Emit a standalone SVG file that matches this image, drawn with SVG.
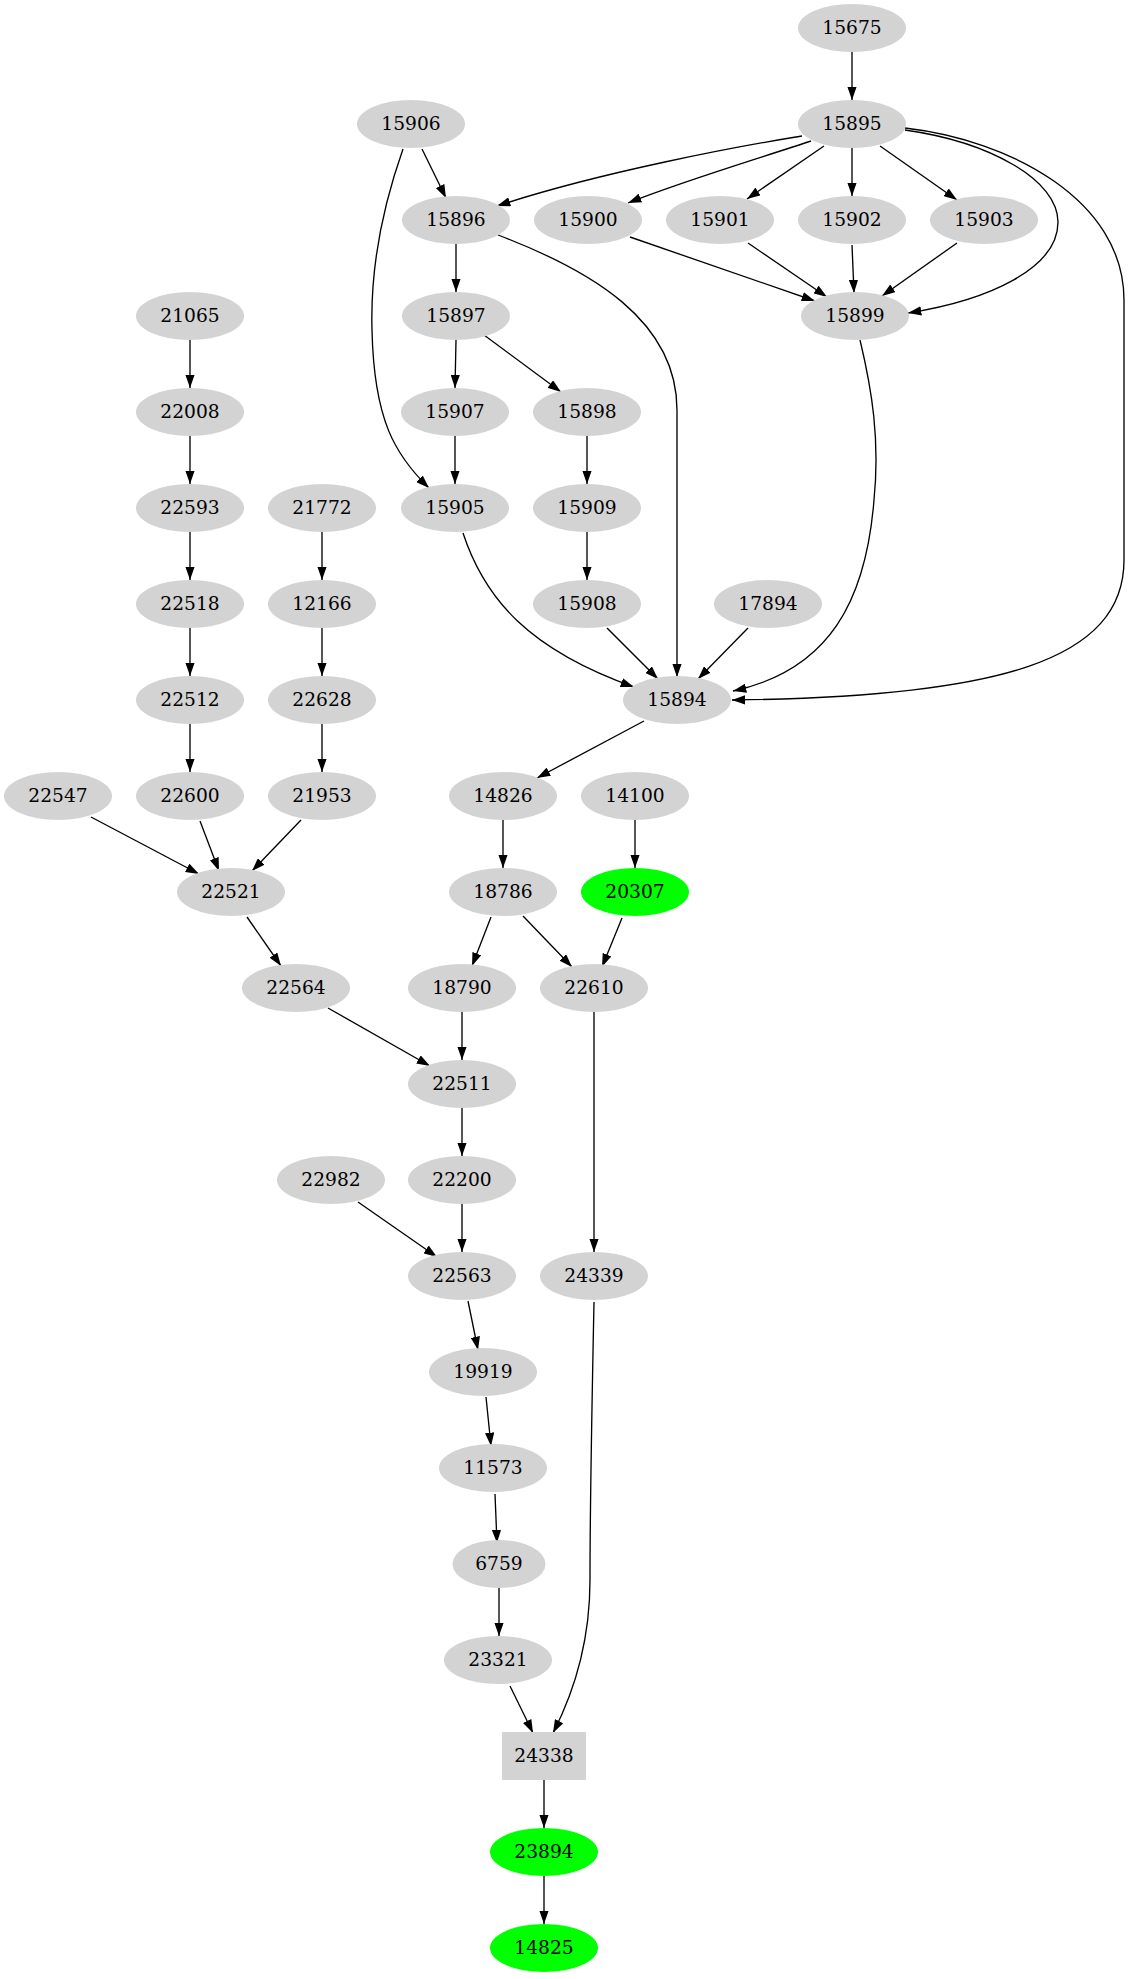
<svg xmlns="http://www.w3.org/2000/svg" width="1131" height="1979" viewBox="0 0 1131 1979">
<style>
.n ellipse, .n rect { fill: #d3d3d3; stroke: none; }
.g ellipse { fill: #00ff00; }
.n text { font-family: "DejaVu Serif", "Liberation Serif", serif; font-size: 18.67px; text-anchor: middle; fill: #000; }
.e path { fill: none; stroke: #000; stroke-width: 1.33; marker-end: url(#ah); }
</style>
<defs>
<marker id="ah" markerUnits="userSpaceOnUse" viewBox="0 0 13.33 9.33" refX="13.33" refY="4.67" markerWidth="13.33" markerHeight="9.33" orient="auto">
<path d="M0,0 L13.33,4.67 L0,9.33 z" fill="#000"/>
</marker>
</defs>
<rect width="1131" height="1979" fill="#fff"/>
<g id="edges" class="e">
<path d="M852,52 L852,100"/>
<path d="M802,136 C740,146 600,172 497,206"/>
<path d="M811,141 C760,158 680,182 628,203"/>
<path d="M824,146 L747,199"/>
<path d="M852,148 L852,196"/>
<path d="M880,146 L957,200"/>
<path d="M905,130 C990,142 1058,180 1058,222 C1058,268 990,300 908,313"/>
<path d="M905,128 C1010,140 1124,200 1124,300 L1124,560 C1124,660 1000,697 732,700"/>
<path d="M422,149 L446,198"/>
<path d="M403,149 C385,200 370,260 372,330 C374,420 395,455 429,488"/>
<path d="M456,244 L456,292"/>
<path d="M498,235 C590,270 677,320 677,410 L677,677"/>
<path d="M630,237 L815,301"/>
<path d="M748,243 L827,297"/>
<path d="M852,245 L854,293"/>
<path d="M957,243 L882,296"/>
<path d="M860,340 C872,390 880,440 874,500 C866,600 830,670 733,691"/>
<path d="M456,340 L455,388"/>
<path d="M484,335 L561,392"/>
<path d="M455,436 L455,484"/>
<path d="M587,436 L587,484"/>
<path d="M587,532 L587,580"/>
<path d="M463,533 C485,600 530,650 634,687"/>
<path d="M607,628 L658,679"/>
<path d="M748,628 L698,679"/>
<path d="M190,340 L190,388"/>
<path d="M190,436 L190,484"/>
<path d="M190,532 L190,580"/>
<path d="M322,532 L322,580"/>
<path d="M190,628 L190,676"/>
<path d="M322,628 L322,676"/>
<path d="M190,724 L190,772"/>
<path d="M322,724 L322,772"/>
<path d="M644,721 L537,778"/>
<path d="M91,817 L199,874"/>
<path d="M200,821 L219,871"/>
<path d="M301,820 L252,871"/>
<path d="M247,917 L281,966"/>
<path d="M503,820 L503,868"/>
<path d="M635,820 L635,868"/>
<path d="M491,917 L472,966"/>
<path d="M523,916 L572,967"/>
<path d="M622,918 L602,967"/>
<path d="M328,1008 L430,1066"/>
<path d="M462,1012 L462,1060"/>
<path d="M594,1012 L594,1252"/>
<path d="M462,1108 L462,1156"/>
<path d="M358,1202 L437,1257"/>
<path d="M462,1204 L462,1252"/>
<path d="M468,1301 L478,1350"/>
<path d="M486,1397 L491,1446"/>
<path d="M495,1494 L497,1543"/>
<path d="M499,1588 L499,1636"/>
<path d="M510,1686 L533,1733"/>
<path d="M594,1302 C592,1400 590,1500 590,1580 C590,1650 570,1700 553,1733"/>
<path d="M544,1780 L544,1828"/>
<path d="M544,1876 L544,1924"/>
</g>
<g id="n15675" class="n"><ellipse cx="852" cy="28" rx="54" ry="24"/><text x="852" y="34">15675</text></g>
<g id="n15895" class="n"><ellipse cx="852" cy="124" rx="54" ry="24"/><text x="852" y="130">15895</text></g>
<g id="n15906" class="n"><ellipse cx="411" cy="124" rx="54" ry="24"/><text x="411" y="130">15906</text></g>
<g id="n15896" class="n"><ellipse cx="456" cy="220" rx="54" ry="24"/><text x="456" y="226">15896</text></g>
<g id="n15900" class="n"><ellipse cx="588" cy="220" rx="54" ry="24"/><text x="588" y="226">15900</text></g>
<g id="n15901" class="n"><ellipse cx="720" cy="220" rx="54" ry="24"/><text x="720" y="226">15901</text></g>
<g id="n15902" class="n"><ellipse cx="852" cy="220" rx="54" ry="24"/><text x="852" y="226">15902</text></g>
<g id="n15903" class="n"><ellipse cx="984" cy="220" rx="54" ry="24"/><text x="984" y="226">15903</text></g>
<g id="n21065" class="n"><ellipse cx="190" cy="316" rx="54" ry="24"/><text x="190" y="322">21065</text></g>
<g id="n15897" class="n"><ellipse cx="456" cy="316" rx="54" ry="24"/><text x="456" y="322">15897</text></g>
<g id="n15899" class="n"><ellipse cx="855" cy="316" rx="54" ry="24"/><text x="855" y="322">15899</text></g>
<g id="n22008" class="n"><ellipse cx="190" cy="412" rx="54" ry="24"/><text x="190" y="418">22008</text></g>
<g id="n15907" class="n"><ellipse cx="455" cy="412" rx="54" ry="24"/><text x="455" y="418">15907</text></g>
<g id="n15898" class="n"><ellipse cx="587" cy="412" rx="54" ry="24"/><text x="587" y="418">15898</text></g>
<g id="n22593" class="n"><ellipse cx="190" cy="508" rx="54" ry="24"/><text x="190" y="514">22593</text></g>
<g id="n21772" class="n"><ellipse cx="322" cy="508" rx="54" ry="24"/><text x="322" y="514">21772</text></g>
<g id="n15905" class="n"><ellipse cx="455" cy="508" rx="54" ry="24"/><text x="455" y="514">15905</text></g>
<g id="n15909" class="n"><ellipse cx="587" cy="508" rx="54" ry="24"/><text x="587" y="514">15909</text></g>
<g id="n22518" class="n"><ellipse cx="190" cy="604" rx="54" ry="24"/><text x="190" y="610">22518</text></g>
<g id="n12166" class="n"><ellipse cx="322" cy="604" rx="54" ry="24"/><text x="322" y="610">12166</text></g>
<g id="n15908" class="n"><ellipse cx="587" cy="604" rx="54" ry="24"/><text x="587" y="610">15908</text></g>
<g id="n17894" class="n"><ellipse cx="768" cy="604" rx="54" ry="24"/><text x="768" y="610">17894</text></g>
<g id="n22512" class="n"><ellipse cx="190" cy="700" rx="54" ry="24"/><text x="190" y="706">22512</text></g>
<g id="n22628" class="n"><ellipse cx="322" cy="700" rx="54" ry="24"/><text x="322" y="706">22628</text></g>
<g id="n15894" class="n"><ellipse cx="677" cy="700" rx="54" ry="24"/><text x="677" y="706">15894</text></g>
<g id="n22547" class="n"><ellipse cx="58" cy="796" rx="54" ry="24"/><text x="58" y="802">22547</text></g>
<g id="n22600" class="n"><ellipse cx="190" cy="796" rx="54" ry="24"/><text x="190" y="802">22600</text></g>
<g id="n21953" class="n"><ellipse cx="322" cy="796" rx="54" ry="24"/><text x="322" y="802">21953</text></g>
<g id="n14826" class="n"><ellipse cx="503" cy="796" rx="54" ry="24"/><text x="503" y="802">14826</text></g>
<g id="n14100" class="n"><ellipse cx="635" cy="796" rx="54" ry="24"/><text x="635" y="802">14100</text></g>
<g id="n22521" class="n"><ellipse cx="231" cy="892" rx="54" ry="24"/><text x="231" y="898">22521</text></g>
<g id="n18786" class="n"><ellipse cx="503" cy="892" rx="54" ry="24"/><text x="503" y="898">18786</text></g>
<g id="n20307" class="n g"><ellipse cx="635" cy="892" rx="54" ry="24"/><text x="635" y="898">20307</text></g>
<g id="n22564" class="n"><ellipse cx="296" cy="988" rx="54" ry="24"/><text x="296" y="994">22564</text></g>
<g id="n18790" class="n"><ellipse cx="462" cy="988" rx="54" ry="24"/><text x="462" y="994">18790</text></g>
<g id="n22610" class="n"><ellipse cx="594" cy="988" rx="54" ry="24"/><text x="594" y="994">22610</text></g>
<g id="n22511" class="n"><ellipse cx="462" cy="1084" rx="54" ry="24"/><text x="462" y="1090">22511</text></g>
<g id="n22982" class="n"><ellipse cx="331" cy="1180" rx="54" ry="24"/><text x="331" y="1186">22982</text></g>
<g id="n22200" class="n"><ellipse cx="462" cy="1180" rx="54" ry="24"/><text x="462" y="1186">22200</text></g>
<g id="n22563" class="n"><ellipse cx="462" cy="1276" rx="54" ry="24"/><text x="462" y="1282">22563</text></g>
<g id="n24339" class="n"><ellipse cx="594" cy="1276" rx="54" ry="24"/><text x="594" y="1282">24339</text></g>
<g id="n19919" class="n"><ellipse cx="483" cy="1372" rx="54" ry="24"/><text x="483" y="1378">19919</text></g>
<g id="n11573" class="n"><ellipse cx="493" cy="1468" rx="54" ry="24"/><text x="493" y="1474">11573</text></g>
<g id="n6759" class="n"><ellipse cx="499" cy="1564" rx="46.5" ry="24"/><text x="499" y="1570">6759</text></g>
<g id="n23321" class="n"><ellipse cx="498" cy="1660" rx="54" ry="24"/><text x="498" y="1666">23321</text></g>
<g id="n24338" class="n"><rect x="502" y="1732" width="84" height="48"/><text x="544" y="1762">24338</text></g>
<g id="n23894" class="n g"><ellipse cx="544" cy="1852" rx="54" ry="24"/><text x="544" y="1858">23894</text></g>
<g id="n14825" class="n g"><ellipse cx="544" cy="1948" rx="54" ry="24"/><text x="544" y="1954">14825</text></g>
</svg>
